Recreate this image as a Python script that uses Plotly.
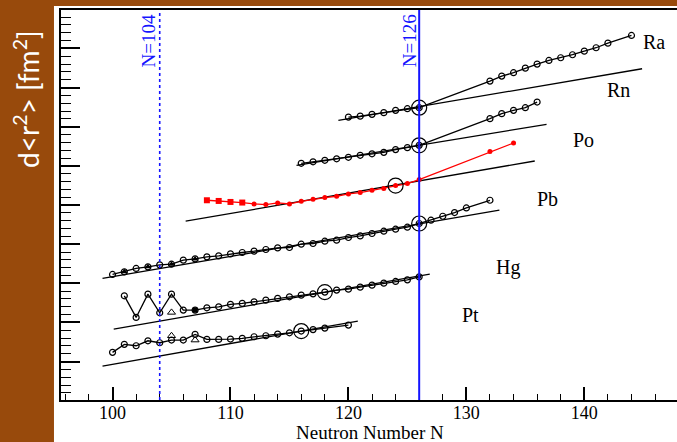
import plotly.graph_objects as go

# ---------------- data ----------------
# y values in arbitrary units
ra_n = [120, 121, 122, 123, 124, 125, 126, 132, 133, 134, 135, 136, 137, 138, 139, 140, 141, 142, 144]
ra_v = [6.308, 6.331, 6.376, 6.418, 6.475, 6.517, 6.542, 7.204, 7.328, 7.413, 7.527, 7.627, 7.719, 7.786, 7.861, 7.950, 8.035, 8.149, 8.341]
ra_ref_n = [119.15, 144.9]
ra_ref_v = [6.226, 7.512]

rn_n = [116, 117, 118, 119, 120, 121, 122, 123, 124, 125, 126, 132, 133, 134, 135, 136]
rn_v = [5.157, 5.194, 5.231, 5.269, 5.306, 5.356, 5.393, 5.430, 5.498, 5.547, 5.604, 6.269, 6.393, 6.475, 6.542, 6.682]
rn_ref_n = [115.6, 136.8]
rn_ref_v = [5.107, 6.127]

po_sq_n = [108, 109, 110, 111]
po_sq_v = [4.236, 4.219, 4.194, 4.179]
po_n = [112, 113, 114, 115, 116, 117, 118, 119, 120, 121, 122, 123, 124, 125, 126, 132, 134]
po_v = [4.144, 4.129, 4.169, 4.144, 4.211, 4.261, 4.303, 4.336, 4.393, 4.428, 4.485, 4.527, 4.602, 4.652, 4.751, 5.448, 5.662]
po_ref_n = [106.2, 135.8]
po_ref_v = [3.714, 5.214]

pb_n = [100, 101, 102, 103, 104, 105, 106, 107, 108, 109, 110, 111, 112, 113, 114, 115, 116, 117, 118, 119,
        120, 121, 122, 123, 124, 125, 126, 127, 128, 129, 130, 132]
pb_v = [2.388, 2.453, 2.537, 2.577, 2.627, 2.644, 2.744, 2.776, 2.826, 2.851, 2.900, 2.935, 2.968, 3.010, 3.050,
        3.060, 3.142, 3.159, 3.216, 3.241, 3.308, 3.348, 3.408, 3.465, 3.515, 3.565, 3.657, 3.739, 3.838, 3.930,
        4.045, 4.236]
pb_tri_n = [101, 103, 105, 107]
pb_tri_v = [2.453, 2.577, 2.644, 2.776]
pb_ref_n = [99.15, 132.8]
pb_ref_v = [2.289, 3.988]

hg_n = [101, 102, 103, 104, 105, 106, 107, 108, 109, 110, 111, 112, 113, 114, 115, 116, 117, 118, 119, 120,
        121, 122, 123, 124, 125, 126]
hg_v = [1.856, 1.318, 1.898, 1.433, 1.898, 1.500, 1.500, 1.557, 1.582, 1.642, 1.667, 1.706, 1.749, 1.791,
        1.831, 1.873, 1.905, 1.948, 1.998, 2.022, 2.072, 2.122, 2.172, 2.214, 2.254, 2.328]
hg_tri_n = [105]
hg_tri_v = [1.443]
hg_sq_n = [107]
hg_sq_v = [1.500]
hg_ref_n = [100.1, 126.9]
hg_ref_v = [1.027, 2.396]

pt_n = [100, 101, 102, 103, 104, 105, 106, 107, 108, 109, 110, 111, 112, 113, 114, 115, 116, 117, 118, 120]
pt_v = [0.448, 0.647, 0.612, 0.736, 0.687, 0.754, 0.754, 0.896, 0.771, 0.771, 0.779, 0.796, 0.836, 0.861,
        0.903, 0.935, 0.978, 1.015, 1.052, 1.127]
pt_tri_n = [105, 107]
pt_tri_v = [0.861, 0.754]
pt_ref_n = [99.15, 120.8]
pt_ref_v = [0.107, 1.226]

# big rings marking reference isotopes
ring_n = [126, 126, 124, 126, 118, 116]
ring_v = [6.542, 5.604, 4.602, 3.657, 1.948, 0.978]
dot_n = [126, 126, 126, 126]
dot_v = [6.542, 5.604, 3.657, 2.328]

labels = ["Ra", "Rn", "Po", "Pb", "Hg", "Pt"]
label_n = [145.9, 142.94, 139.89, 136.84, 133.53, 130.31]
label_v = [8.167, 6.973, 5.729, 4.261, 2.570, 1.376]

magic_n = [104, 126]
magic_labels = ["N=104", "N=126"]
magic_label_n = [103.03, 125.14]

x_ticks = [100, 110, 120, 130, 140]
x_range = [95.63, 147.86]
y_range = [-0.739, 8.975]
y_tick0 = 8.017
y_dtick = 0.975

# ---------------- figure ----------------
BROWN = "#984A0C"
BLUE = "#1414FF"
SERIF = "Liberation Serif, Times New Roman, serif"

fig = go.Figure()

def ref_line(xn, yv):
    fig.add_trace(go.Scatter(x=xn, y=yv, mode="lines", line=dict(color="black", width=1.3),
                             hoverinfo="skip", showlegend=False))

def open_series(xn, yv, color="black"):
    fig.add_trace(go.Scatter(x=xn, y=yv, mode="lines+markers",
                             line=dict(color=color, width=1.3),
                             marker=dict(symbol="circle-open", size=6, color=color, line=dict(width=1.2)),
                             showlegend=False))

for rx, ry in [(ra_ref_n, ra_ref_v), (rn_ref_n, rn_ref_v), (po_ref_n, po_ref_v),
               (pb_ref_n, pb_ref_v), (hg_ref_n, hg_ref_v), (pt_ref_n, pt_ref_v)]:
    ref_line(rx, ry)

open_series(ra_n, ra_v)
open_series(rn_n, rn_v)
open_series(pb_n, pb_v)
open_series(hg_n, hg_v)
open_series(pt_n, pt_v)

# red series (Po)
fig.add_trace(go.Scatter(x=po_sq_n + po_n, y=po_sq_v + po_v, mode="lines",
                         line=dict(color="#FF0000", width=1.3), showlegend=False))
fig.add_trace(go.Scatter(x=po_sq_n, y=po_sq_v, mode="markers",
                         marker=dict(symbol="square", size=6, color="#FF0000"), showlegend=False))
fig.add_trace(go.Scatter(x=po_n, y=po_v, mode="markers",
                         marker=dict(symbol="circle", size=5, color="#FF0000"), showlegend=False))

# extra markers
fig.add_trace(go.Scatter(x=pb_tri_n, y=pb_tri_v, mode="markers",
                         marker=dict(symbol="triangle-up", size=6, color="black"), showlegend=False))
fig.add_trace(go.Scatter(x=hg_sq_n, y=hg_sq_v, mode="markers",
                         marker=dict(symbol="square", size=5, color="black"), showlegend=False))
fig.add_trace(go.Scatter(x=hg_tri_n + pt_tri_n, y=hg_tri_v + pt_tri_v, mode="markers",
                         marker=dict(symbol="triangle-up-open", size=7, color="black", line=dict(width=1)),
                         showlegend=False))
fig.add_trace(go.Scatter(x=ring_n, y=ring_v, mode="markers",
                         marker=dict(symbol="circle-open", size=15, color="black", line=dict(width=1.2)),
                         showlegend=False))
fig.add_trace(go.Scatter(x=dot_n, y=dot_v, mode="markers",
                         marker=dict(symbol="circle", size=4, color="black"), showlegend=False))

# magic number lines
fig.add_shape(type="line", xref="x", yref="paper", x0=magic_n[0], x1=magic_n[0], y0=0, y1=1,
              line=dict(color=BLUE, width=1.6, dash="3px,3px"), layer="above")
fig.add_shape(type="line", xref="x", yref="paper", x0=magic_n[1], x1=magic_n[1], y0=0, y1=1,
              line=dict(color=BLUE, width=2), layer="above")

# white card behind the plot
fig.add_shape(type="rect", xref="paper", yref="paper", x0=-0.0114, x1=1.01, y0=-0.108, y1=1.0103,
              fillcolor="white", line=dict(width=0), layer="below")

for t, xn in zip(magic_labels, magic_label_n):
    fig.add_annotation(x=xn, xref="x", y=0.993, yref="paper", text=t, textangle=-90,
                       showarrow=False, xanchor="center", yanchor="top",
                       font=dict(family=SERIF, size=19, color=BLUE))

for t, xn, yv in zip(labels, label_n, label_v):
    fig.add_annotation(x=xn, y=yv, text=t, showarrow=False, xanchor="center", yanchor="middle",
                       font=dict(family=SERIF, size=20, color="black"))

# axis titles
fig.add_annotation(x=0.5016, xref="paper", y=-0.0835, yref="paper", text="Neutron Number N",
                   showarrow=False, xanchor="center", yanchor="middle",
                   font=dict(family=SERIF, size=19, color="black"))
fig.add_annotation(x=-0.0552, xref="paper", y=0.7718, yref="paper", text="d&lt;r<sup>2</sup>&gt; [fm<sup>2</sup>]",
                   textangle=-90, showarrow=False, xanchor="center", yanchor="middle",
                   font=dict(family="Lato, Open Sans, sans-serif", size=28, color="white"))

fig.update_layout(
    width=677, height=442,
    margin=dict(l=61, r=0, t=10, b=42),
    paper_bgcolor=BROWN, plot_bgcolor="white",
    showlegend=False,
    xaxis=dict(range=x_range, tickmode="array", tickvals=x_ticks,
               ticks="inside", ticklen=13, tickwidth=1.5, tickcolor="black",
               minor=dict(dtick=2, tick0=100, ticks="inside", ticklen=6, tickwidth=1.2, tickcolor="black"),
               showline=True, linecolor="black", linewidth=2, mirror=True,
               showgrid=False, zeroline=False, ticklabelstandoff=-5,
               tickfont=dict(family=SERIF, size=18, color="black")),
    yaxis=dict(range=y_range, dtick=y_dtick, tick0=y_tick0, showticklabels=False,
               ticks="inside", ticklen=19, tickwidth=1.5, tickcolor="black",
               minor=dict(dtick=y_dtick / 5, tick0=y_tick0, ticks="inside", ticklen=10, tickwidth=1.2,
                          tickcolor="black"),
               showline=True, linecolor="black", linewidth=2, mirror=False,
               showgrid=False, zeroline=False),
)

fig.write_html("out.html")
